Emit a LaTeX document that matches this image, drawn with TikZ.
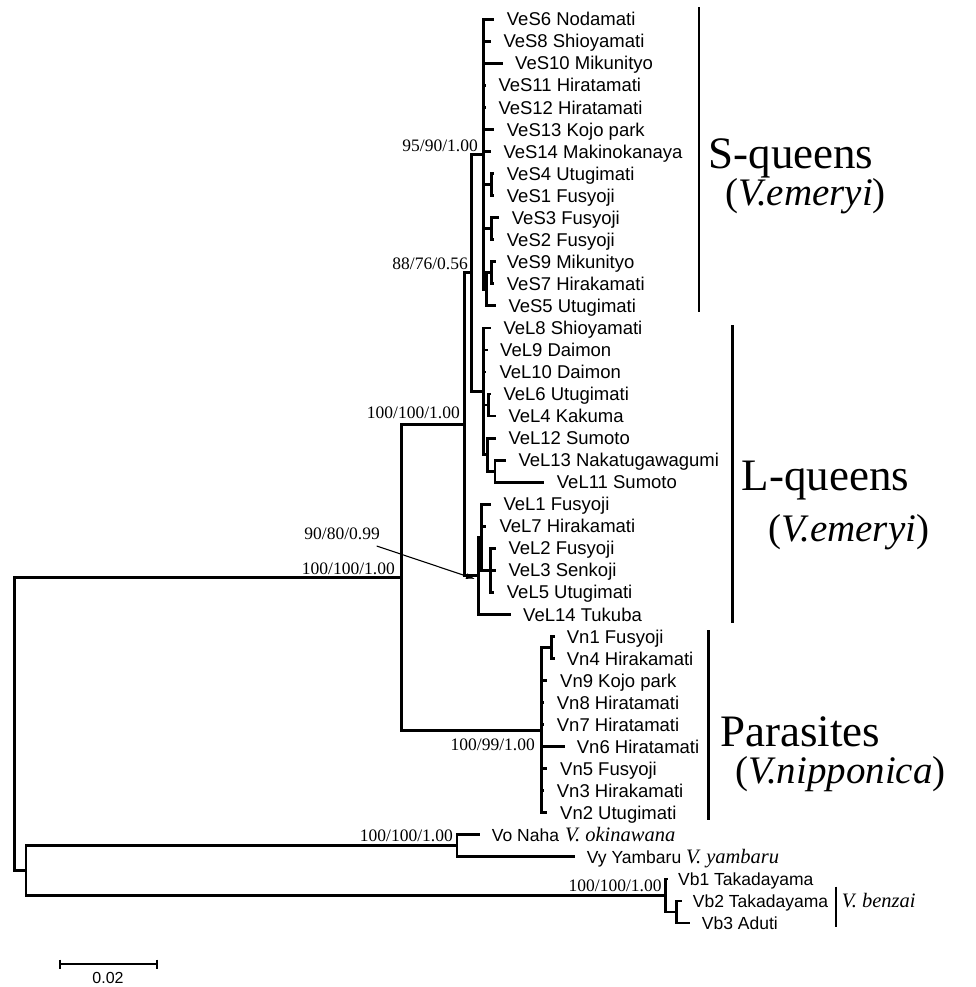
\documentclass[tikz,border=0pt]{standalone}
\usepackage{fontspec}
\setmainfont{Liberation Serif}
\newfontfamily\lsans{Liberation Sans}
\usetikzlibrary{arrows.meta}
\newcommand\leafnode[5]{%
  \coordinate (#1) at (#2,#3);
  \node[leaflab] (#1-l) at (#4,#3) {#5};}
\newcommand\outleaf[5]{%
  \coordinate (#1) at (#2,#3);
  \node[leaflab, outlab] (#1-l) at (#4,#3) {#5};}
\begin{document}
\begin{tikzpicture}[x=1pt,y=-1pt,
  branch/.style={line width=2.8pt, line join=miter},
  leaflab/.style={font=\lsans\fontsize{18.5}{20}\selectfont, inner sep=0pt, anchor=base west, yshift=-6.6pt},
  outlab/.style={font=\lsans\fontsize{17.5}{19}\selectfont, yshift=0.3pt},
  support/.style={font=\fontsize{17.5}{19}\selectfont, inner sep=0pt, anchor=east},
  grouplab/.style={font=\fontsize{45}{50}\selectfont, inner sep=0pt, anchor=base west},
  subgrouplab/.style={font=\fontsize{39}{42}\selectfont, inner sep=0pt, anchor=base west},
  species/.style={font=\itshape\fontsize{20.5}{22}\selectfont, inner sep=0pt, anchor=base west, yshift=-6.6pt},
  cladebar/.style={line width=2.8pt},
  pointer/.style={line width=1.1pt, -{Latex[length=9pt,width=6pt]}},
  scalebar/.style={line width=2pt}]
\useasboundingbox (0,0) rectangle (975,987);

% internal nodes
\coordinate (R) at (14.5,723.9);
\coordinate (In) at (401.7,577.2);
\coordinate (Q) at (464.5,424.3);
\coordinate (N88) at (471.7,272.8);
\coordinate (S) at (483.3,154.3);
\coordinate (S41) at (491.7,184.6);
\coordinate (S32) at (491.7,228.7);
\coordinate (S975) at (486.7,289.3);
\coordinate (S97) at (491.7,272.7);
\coordinate (LA) at (483.3,391.3);
\coordinate (L64) at (488.3,405.0);
\coordinate (L12g) at (487.3,454.6);
\coordinate (L1311) at (495,471.1);
\coordinate (LB) at (478.3,575.8);
\coordinate (Lsub) at (481.7,537.3);
\coordinate (L235) at (490.7,570.3);
\coordinate (Vn) at (541.7,730.1);
\coordinate (Vn14) at (551.7,647.5);
\coordinate (O) at (26,870.6);
\coordinate (VoVy) at (457,845.8);
\coordinate (Vb) at (665.7,895.4);
\coordinate (Vb23) at (676.7,911.9);

% leaves: name, tip x, y, text x, text
\leafnode{s6}{494.2}{19.3}{506.7}{VeS6 Nodamati}
\leafnode{s8}{490.8}{41.3}{503.3}{VeS8 Shioyamati}
\leafnode{s10}{502.5}{63.4}{515}{VeS10 Mikunityo}
\leafnode{s11}{485.8}{85.4}{498.3}{VeS11 Hiratamati}
\leafnode{s12}{485.8}{107.5}{498.3}{VeS12 Hiratamati}
\leafnode{s13}{494.2}{129.5}{506.7}{VeS13 Kojo park}
\leafnode{s14}{490.8}{151.5}{503.3}{VeS14 Makinokanaya}
\leafnode{s4}{494.2}{173.6}{506.7}{VeS4 Utugimati}
\leafnode{s1}{494.2}{195.6}{506.7}{VeS1 Fusyoji}
\leafnode{s3}{499.2}{217.7}{511.7}{VeS3 Fusyoji}
\leafnode{s2}{494.2}{239.7}{506.7}{VeS2 Fusyoji}
\leafnode{s9}{495.5}{261.7}{506.7}{VeS9 Mikunityo}
\leafnode{s7}{493.5}{283.8}{506.7}{VeS7 Hirakamati}
\leafnode{s5}{495.8}{305.8}{508.3}{VeS5 Utugimati}
\leafnode{l8}{490.8}{327.9}{503.3}{VeL8 Shioyamati}
\leafnode{l9}{487.5}{349.9}{500}{VeL9 Daimon}
\leafnode{l10}{486.0}{371.9}{499.3}{VeL10 Daimon}
\leafnode{l6}{490.8}{394.0}{503.3}{VeL6 Utugimati}
\leafnode{l4}{495.8}{416.0}{508.3}{VeL4 Kakuma}
\leafnode{l12}{495.8}{438.1}{508.3}{VeL12 Sumoto}
\leafnode{l13}{505.8}{460.1}{518.3}{VeL13 Nakatugawagumi}
\leafnode{l11}{544.2}{482.1}{556.7}{VeL11 Sumoto}
\leafnode{l1}{490.8}{504.2}{503.3}{VeL1 Fusyoji}
\leafnode{l7}{485.5}{526.2}{499.3}{VeL7 Hirakamati}
\leafnode{l2}{495.8}{548.3}{508.3}{VeL2 Fusyoji}
\leafnode{l3}{495.8}{570.3}{508.3}{VeL3 Senkoji}
\leafnode{l5}{494.2}{592.3}{506.7}{VeL5 Utugimati}
\leafnode{l14}{510.5}{614.4}{523}{VeL14 Tukuba}
\leafnode{n1}{554.7}{636.4}{566.7}{Vn1 Fusyoji}
\leafnode{n4}{554.7}{658.5}{566.7}{Vn4 Hirakamati}
\leafnode{n9}{547.0}{680.5}{560}{Vn9 Kojo park}
\leafnode{n8}{543.7}{702.5}{556.7}{Vn8 Hiratamati}
\leafnode{n7}{543.7}{724.6}{556.7}{Vn7 Hiratamati}
\leafnode{n6}{564.7}{746.6}{576.7}{Vn6 Hiratamati}
\leafnode{n5}{547.0}{768.7}{560}{Vn5 Fusyoji}
\leafnode{n3}{543.7}{790.7}{556.7}{Vn3 Hirakamati}
\leafnode{n2}{547.0}{812.7}{560}{Vn2 Utugimati}
\outleaf{vo}{479.5}{834.8}{491.7}{Vo Naha}
\outleaf{vy}{574.5}{856.8}{586.7}{Vy Yambaru}
\outleaf{b1}{668}{878.9}{678}{Vb1 Takadayama}
\outleaf{b2}{681.7}{900.9}{692.7}{Vb2 Takadayama}
\outleaf{b3}{690}{922.9}{701.7}{Vb3 Aduti}

% branches
\draw[branch] (R) |- (In);  \draw[branch] (R) |- (O);
\draw[branch] (In) |- (Q);  \draw[branch] (In) |- (Vn);
\draw[branch] (Q) |- (N88); \draw[branch] (Q) |- (LB);
\draw[branch] (N88) |- (S); \draw[branch] (N88) |- (LA);
\foreach \c in {s6,s8,s10,s11,s12,s13,s14,S41,S32,S975} \draw[branch] (S) |- (\c);
\foreach \c in {s4,s1} \draw[branch] (S41) |- (\c);
\foreach \c in {s3,s2} \draw[branch] (S32) |- (\c);
\foreach \c in {S97,s5} \draw[branch] (S975) |- (\c);
\foreach \c in {s9,s7} \draw[branch] (S97) |- (\c);
\foreach \c in {l8,l9,l10,L64,L12g} \draw[branch] (LA) |- (\c);
\foreach \c in {l6,l4} \draw[branch] (L64) |- (\c);
\foreach \c in {l12,L1311} \draw[branch] (L12g) |- (\c);
\foreach \c in {l13,l11} \draw[branch] (L1311) |- (\c);
\foreach \c in {Lsub,l14} \draw[branch] (LB) |- (\c);
\foreach \c in {l1,l7,L235} \draw[branch] (Lsub) |- (\c);
\foreach \c in {l2,l3,l5} \draw[branch] (L235) |- (\c);
\foreach \c in {Vn14,n9,n8,n7,n6,n5,n3,n2} \draw[branch] (Vn) |- (\c);
\foreach \c in {n1,n4} \draw[branch] (Vn14) |- (\c);
\foreach \c in {VoVy,Vb} \draw[branch] (O) |- (\c);
\foreach \c in {vo,vy} \draw[branch] (VoVy) |- (\c);
\foreach \c in {b1,Vb23} \draw[branch] (Vb) |- (\c);
\foreach \c in {b2,b3} \draw[branch] (Vb23) |- (\c);

% support values
\node[support] (sS) at ([xshift=-5.3pt,yshift=8.5pt]S) {95/90/1.00};
\node[support] (sN88) at ([xshift=-3.7pt,yshift=9pt]N88) {88/76/0.56};
\node[support] (sQ) at ([xshift=-4.5pt,yshift=11pt]Q) {100/100/1.00};
\node[support] (sIn) at ([xshift=-6.7pt,yshift=8.5pt]In) {100/100/1.00};
\node[support] (sVn) at ([xshift=-6.7pt,yshift=-15pt]Vn) {100/99/1.00};
\node[support] (sVoVy) at ([xshift=-4pt,yshift=10.5pt]VoVy) {100/100/1.00};
\node[support] (sVb) at ([xshift=-4pt,yshift=10pt]Vb) {100/100/1.00};
\node[support] (s90) at (380,533.3) {90/80/0.99};
\coordinate (arrtip) at (475,579);
\draw[pointer] ([xshift=-3.3pt,yshift=-12.7pt]s90.east) -- (arrtip);

% species names for outgroups
\node[species] (spo) at (565,834.8) {V. okinawana};
\node[species] (spy) at (686,856.8) {V. yambaru};
\node[species] (spb) at (841.7,900.9) {V. benzai};

% clade bars
\coordinate (sbt) at (699,7.3);   \coordinate (sbb) at (699,311.7);
\coordinate (lbt) at (732.7,325); \coordinate (lbb) at (732.7,623);
\coordinate (pbt) at (708.3,630); \coordinate (pbb) at (708.3,820);
\coordinate (bbt) at (836,886.7); \coordinate (bbb) at (836,926.7);
\draw[cladebar] (sbt) -- (sbb);
\draw[cladebar] (lbt) -- (lbb);
\draw[cladebar] (pbt) -- (pbb);
\draw[line width=2pt] (bbt) -- (bbb);

% group labels
\node[grouplab] (gS) at (708.3,169) {S-queens};
\node[subgrouplab] (gSs) at (725,205.5) {(\textit{V.emeryi})};
\node[grouplab] (gL) at (741.7,490) {L-queens};
\node[subgrouplab] (gLs) at (768.3,541.5) {(\textit{V.emeryi})};
\node[grouplab] (gP) at (720,746.7) {Parasites};
\node[subgrouplab] (gPs) at (735,783) {(\textit{V.nipponica})};

% scale bar
\coordinate (sb1) at (60,964); \coordinate (sb2) at (156.7,964);
\draw[scalebar] (sb1) -- (sb2);
\draw[scalebar] ([yshift=4.5pt]sb1) -- ([yshift=-4.5pt]sb1);
\draw[scalebar] ([yshift=4.5pt]sb2) -- ([yshift=-4.5pt]sb2);
\node[font=\lsans\fontsize{16}{18}\selectfont, inner sep=0pt] (sblab) at (108,977.5) {0.02};
\end{tikzpicture}
\end{document}
